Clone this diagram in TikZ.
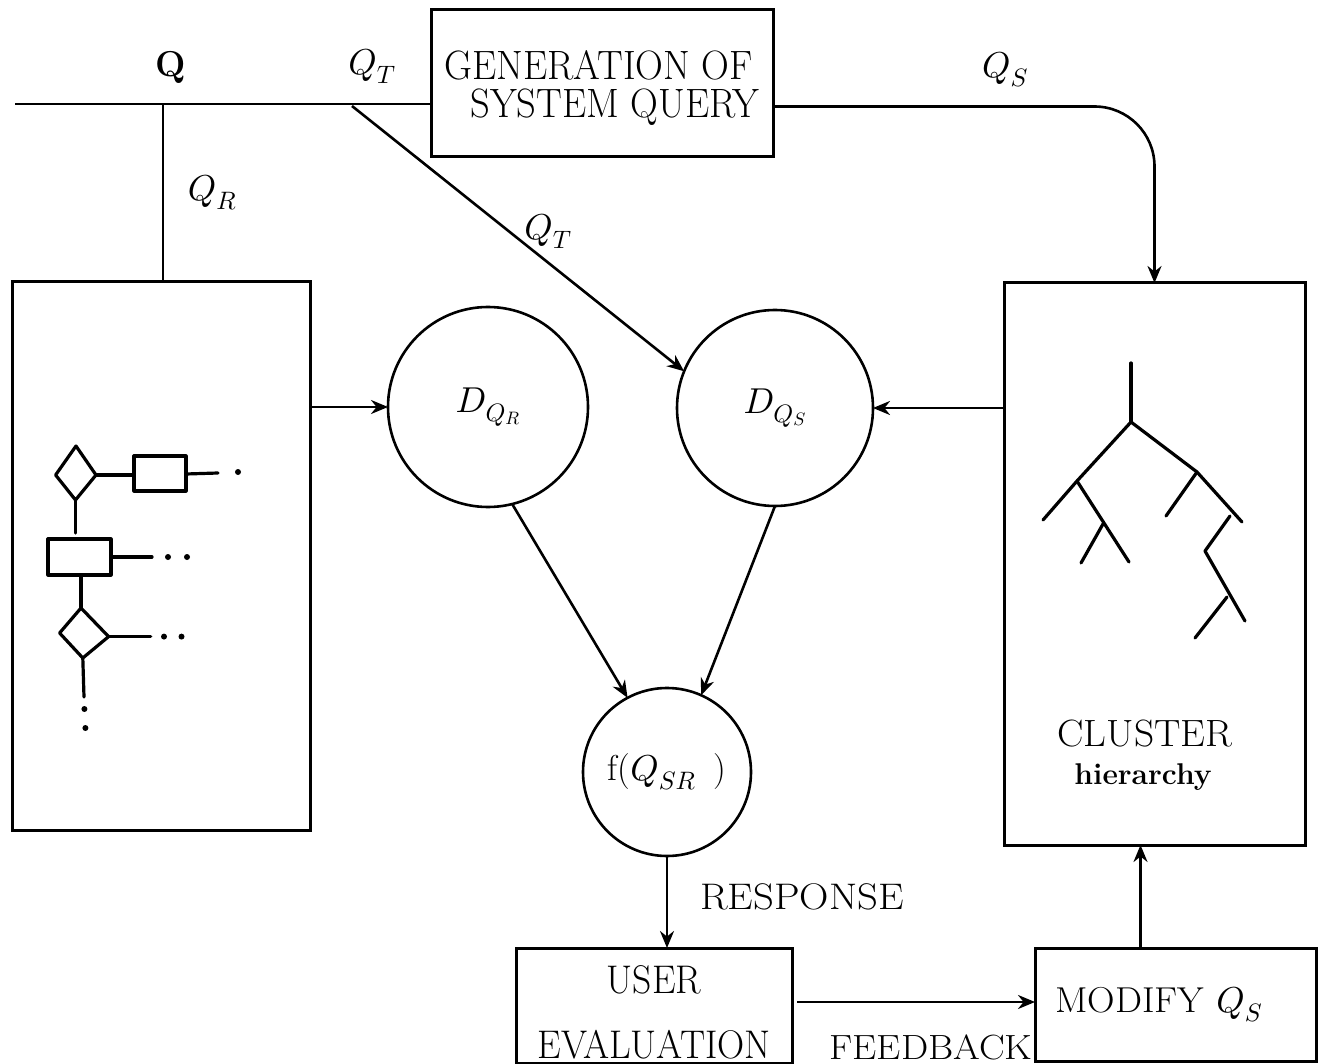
\documentclass[tikz,border=0pt]{standalone}
\usepackage{graphicx}
\usetikzlibrary{arrows.meta,calc}

% scalable math italic at any size
\DeclareFontFamily{OML}{cmm}{\skewchar\font127 }
\DeclareFontShape{OML}{cmm}{m}{it}{<-6>cmmi5<6-8>cmmi7<8->cmmi10}{}

% horizontally scaled text and a size switch
\newcommand{\narrowtext}[2]{\scalebox{#1}[1]{#2}}
\newcommand{\fsz}[2]{\fontsize{#1}{#2}\selectfont}

\begin{document}
\begin{tikzpicture}[x=1pt,y=-1pt,
  every node/.style={inner sep=0pt, outer sep=0pt},
  box/.style={draw, line width=3pt, rectangle},
  circ/.style={draw, line width=2.6pt, circle},
  conn/.style={line width=2.6pt},
  arr/.style={conn, -{Stealth[length=17pt,width=14pt]}},
  glyph/.style={line width=3.2pt, line cap=round, line join=round},
  dotmark/.style={fill=black},
]
\fill[white] (0,0) rectangle (1328,1064);
\useasboundingbox (0,0) rectangle (1328,1064);

% boxes (multi-line text: height/depth measured from the last baseline)
\node[box, minimum width=342pt, minimum height=147pt, align=left,
      text height=79pt, text depth=10pt, font=\fsz{41}{38}] (gen) at (602,83.5)
  {\narrowtext{0.94}{GENERATION OF}\\\hspace*{26pt}\narrowtext{0.94}{SYSTEM QUERY}};
\node[box, minimum width=298pt, minimum height=548pt] (leftbox) at (161,556) {};
\node[box, minimum width=301pt, minimum height=562pt] (cluster) at (1154.5,564) {};
\node[box, minimum width=276pt, minimum height=111pt, align=center,
      text height=110pt, text depth=5pt, font=\fsz{40}{65}] (user) at (654,1005.5)
  {\narrowtext{0.94}{USER}\\\narrowtext{0.94}{EVALUATION}};
\node[box, minimum width=281pt, minimum height=113pt, text width=240pt, align=left,
      font=\fsz{36}{40}] (modify) at (1175.5,1004.5) {\narrowtext{1.06}{MODIFY} $Q_S$};

% circles
\node[circ, minimum size=200pt, font=\fsz{36}{40}] (DQR) at (488,407) {$D_{Q_R}$};
\node[circ, minimum size=196pt, font=\fsz{36}{40}] (DQS) at (775,408) {$D_{Q_S}$};
\node[circ, minimum size=168pt, font=\fsz{36}{40}] (f) at (667,772) {f($Q_{SR}$\enspace)};

% labels
\node[font=\fsz{36}{40}\bfseries] (lq) at (171,67) {Q};
\node[font=\fsz{36}{40}] (lqt) at (372,67) {$Q_T$};
\node[font=\fsz{36}{40}] (lqr) at (212,193) {$Q_R$};
\node[font=\fsz{36}{40}] (lqt2) at (548,232) {$Q_T$};
\node[font=\fsz{36}{40}] (lqs) at (1005,70) {$Q_S$};
\node[font=\fsz{37}{40}] (lresp) at (802,897) {\narrowtext{1.1}{RESPONSE}};
\node[font=\fsz{35}{40}] (lfb) at (931,1047) {\narrowtext{1.1}{FEEDBACK}};
\node[font=\fsz{38}{40}] (lcl) at (1145,734) {\narrowtext{1.04}{CLUSTER}};
\node[font=\fsz{30}{32}\bfseries] (lhier) at (1143,777) {hierarchy};

% free ends of the query lines
\coordinate (qstart) at (15,104);
\coordinate (qr) at (163,104);
\coordinate (qt) at (352,106);
\coordinate (fbstart) at (797,1002);

% connectors
\draw[conn] (qstart) -- (qstart -| gen.west);
\draw[conn] (qr) -- (qr |- leftbox.north);
\draw[arr] (qt) -- (DQS.158);
\draw[arr] (DQR.west -| leftbox.east) -- (DQR.west);
\draw[arr] (DQS.east -| cluster.west) -- (DQS.east);
\draw[arr] (DQR.-76) -- (f.118);
\draw[arr] (DQS.south) -- (f.66);
\draw[arr] (f.south) -- (f.south |- user.north);
\draw[arr] (fbstart) -- (fbstart -| modify.west);
\draw[arr] ([xshift=-35pt]modify.north) -- ([xshift=-35pt]modify.north |- cluster.south);
\draw[arr, rounded corners=60pt] ([yshift=-23pt]gen.east) -| (cluster.north);

% cluster tree
\draw[glyph] (1131,363) -- (1131,422);
\draw[glyph] (1131,422) -- (1077,481) -- (1043,520);
\draw[glyph] (1077,481) -- (1129,562);
\draw[glyph] (1103,524) -- (1081,563);
\draw[glyph] (1131,422) -- (1197,472) -- (1242,522);
\draw[glyph] (1197,472) -- (1166,516);
\draw[glyph] (1230,516) -- (1205,551) -- (1245,621);
\draw[glyph] (1227,597) -- (1195,638);

% record structure sketch in the left box
\draw[glyph] (76,446) -- (96,475) -- (75.5,500) -- (55.6,475) -- cycle;
\draw[glyph] (96,475) -- (134,475);
\draw[glyph] (134,456) rectangle (186,491);
\draw[glyph] (186,474) -- (218,473);
\fill[dotmark] (238,472) circle (3pt);
\draw[glyph] (75.5,500) -- (75.5,533);
\draw[glyph] (48,539) rectangle (111,575);
\draw[glyph] (111,557) -- (152,557);
\fill[dotmark] (168,557) circle (3pt);
\fill[dotmark] (187,557) circle (3pt);
\draw[glyph] (81,575) -- (81,608);
\draw[glyph] (81,608) -- (108.6,636.6) -- (82.8,658) -- (59.6,633) -- cycle;
\draw[glyph] (108.6,636.6) -- (150.7,636.6);
\fill[dotmark] (164,636.6) circle (3pt);
\fill[dotmark] (181.5,636.6) circle (3pt);
\draw[glyph] (82.8,658) -- (84,697);
\fill[dotmark] (84.4,709) circle (3pt);
\fill[dotmark] (85.4,728) circle (3pt);
\end{tikzpicture}
\end{document}
